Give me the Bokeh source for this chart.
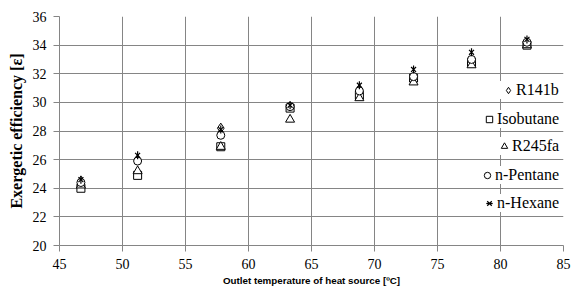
from bokeh.plotting import figure
from bokeh.models import Range1d, FixedTicker, Legend, LegendItem
from bokeh.embed import file_html
from bokeh.resources import INLINE
import math

# ---- data ----
temps = [46.7, 51.2, 57.8, 63.3, 68.8, 73.1, 77.7, 82.1]
r141b = [24.5, 26.0, 28.2, 29.7, 30.9, 31.8, 32.9, 34.1]
isobutane = [24.0, 24.9, 26.9, 29.6, 30.5, 31.7, 32.8, 34.0]
r245fa = [24.2, 25.2, 26.9, 28.8, 30.3, 31.4, 32.6, 34.0]
npentane = [24.4, 25.9, 27.7, 29.7, 30.8, 31.8, 33.0, 34.2]
nhexane = [24.6, 26.3, 28.1, 29.8, 31.2, 32.3, 33.5, 34.4]

x_ticks = [45, 50, 55, 60, 65, 70, 75, 80, 85]
y_ticks = [20, 22, 24, 26, 28, 30, 32, 34, 36]
labels = ["R141b", "Isobutane", "R245fa", "n-Pentane", "n-Hexane"]

GRID = "#858585"
SERIF = "Liberation Serif"

p = figure(width=571, height=289, output_backend="svg", toolbar_location=None,
           x_range=Range1d(45, 85), y_range=Range1d(20, 36),
           min_border_left=59, min_border_right=8, min_border_top=16, min_border_bottom=44)
p.outline_line_color = None
p.background_fill_color = "white"

xa = p.xaxis[0]
ya = p.yaxis[0]
xa.ticker = FixedTicker(ticks=x_ticks)
ya.ticker = FixedTicker(ticks=y_ticks)
p.xgrid[0].ticker = FixedTicker(ticks=x_ticks[1:-1])
p.ygrid[0].ticker = FixedTicker(ticks=y_ticks[1:])
for g in (p.xgrid[0], p.ygrid[0]):
    g.grid_line_color = GRID
    g.grid_line_width = 1
for ax in (xa, ya):
    ax.axis_line_color = GRID
    ax.major_tick_line_color = GRID
    ax.minor_tick_line_color = None
    ax.major_tick_out = 6
    ax.major_tick_in = 0
    ax.major_label_text_font = SERIF
    ax.major_label_text_font_size = "14px"
    ax.major_label_text_color = "black"
    ax.axis_label_text_color = "black"
    ax.axis_label_text_font_style = "bold"

xa.axis_label = "Outlet temperature of heat source [ºC]"
xa.axis_label_text_font = "Liberation Sans"
xa.axis_label_text_font_size = "9.8px"
xa.major_label_standoff = 7
xa.axis_label_standoff = 3

ya.axis_label = "Exergetic efficiency [ε]"
ya.axis_label_text_font = SERIF
ya.axis_label_text_font_size = "16px"
ya.major_label_standoff = 7
ya.axis_label_standoff = 5

common = dict(line_color="black", fill_color="white", line_width=1)
r1 = p.scatter(temps, r141b, marker="diamond", size=10, **common)
r2 = p.scatter(temps, isobutane, marker="square", size=8, **common)
r3 = p.scatter(temps, r245fa, marker="triangle", size=9, **common)
r4 = p.scatter(temps, npentane, marker="circle", size=8, **common)
r5a = p.scatter(temps, nhexane, marker="x", size=7, line_color="black", line_width=1.2)
r5b = p.scatter(temps, nhexane, marker="dash", size=8, angle=math.pi / 2,
                line_color="black", line_width=1.2)

renderers = [[r1], [r2], [r3], [r4], [r5a, r5b]]
# legend entries right-aligned: approximate text widths (px) at 16px serif
text_w = [43, 62, 47, 64, 62]
centers_from_bottom = [156, 127, 100, 71, 43]
right_edge = 502
for lab, rs, tw, cy in zip(labels, renderers, text_w, centers_from_bottom):
    leg = Legend(items=[LegendItem(label=lab, renderers=rs)],
                 location=(right_edge - 18 - tw, cy - 10),
                 padding=1, margin=0, spacing=0,
                 glyph_width=16, glyph_height=16, label_standoff=0,
                 label_height=16,
                 label_text_font=SERIF, label_text_font_size="16px",
                 label_text_color="black",
                 border_line_color=None, background_fill_color="white",
                 background_fill_alpha=1.0)
    p.add_layout(leg)

open("out.html", "w").write(file_html(p, INLINE))
